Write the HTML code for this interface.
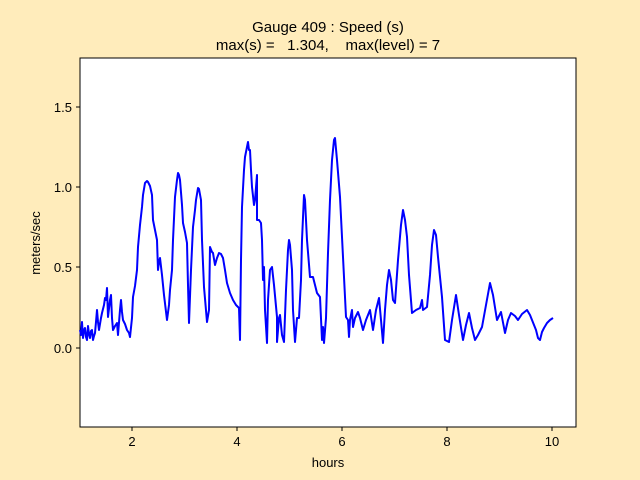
<!DOCTYPE html>
<html><head><meta charset="utf-8"><style>
html,body{margin:0;padding:0;background:#ffecbb;}
svg{display:block;font-family:"Liberation Sans","DejaVu Sans",sans-serif;}
</style></head><body>
<svg width="640" height="480" viewBox="0 0 640 480">
<rect width="640" height="480" fill="#ffecbb"/>
<rect x="80" y="58" width="496" height="369" fill="#fff" stroke="#000" stroke-width="1"/>
<text x="328" y="32" font-size="15" text-anchor="middle">Gauge 409 : Speed (s)</text>
<text x="328" y="50" font-size="15" text-anchor="middle" xml:space="preserve">max(s) =   1.304,    max(level) = 7</text>
<g stroke="#000" stroke-width="1">
<line x1="132" y1="427" x2="132" y2="431"/><line x1="237" y1="427" x2="237" y2="431"/>
<line x1="342" y1="427" x2="342" y2="431"/><line x1="447" y1="427" x2="447" y2="431"/>
<line x1="552" y1="427" x2="552" y2="431"/>
<line x1="76" y1="348" x2="80" y2="348"/><line x1="76" y1="267" x2="80" y2="267"/>
<line x1="76" y1="187" x2="80" y2="187"/><line x1="76" y1="107" x2="80" y2="107"/>
</g>
<g font-size="13" text-anchor="middle">
<text x="132" y="446">2</text><text x="237" y="446">4</text><text x="342" y="446">6</text>
<text x="447" y="446">8</text><text x="552" y="446">10</text>
<text x="328" y="467">hours</text>
</g>
<g font-size="13" text-anchor="end">
<text x="72" y="353">0.0</text><text x="72" y="272">0.5</text>
<text x="72" y="192">1.0</text><text x="72" y="112">1.5</text>
</g>
<text transform="translate(40,243) rotate(-90)" font-size="13" text-anchor="middle">meters/sec</text>
<polyline fill="none" stroke="#0000ff" stroke-width="2" stroke-linejoin="round" points="
80,330 81,335 82,322 83,338 84,330 85,328 86,337 87,340 88,326 89,334 90,338 91,331 92,330 93,340 94,336 95,333 96,322 97,310 98,322 99,330 101,318 102,313 104,305 105,298 106,300 107,288 108,317 110,300 111,295 112,318 113,330 115,326 117,323 118,335 120,310 121,300 122,312 123,320 125,324 127,330 129,333 130,337 132,318 133,297 135,286 137,270 138,247 140,225 142,207 143,195 145,183 147,181 148,182 150,186 152,195 153,220 155,230 157,240 158,270 159,262 160,258 162,275 164,295 167,320 169,305 170,290 172,270 173,240 175,197 177,180 178,173 179,175 180,180 182,205 183,223 185,232 187,243 188,285 189,323 191,270 193,227 195,210 196,200 198,188 199,189 201,200 202,240 204,287 207,322 209,310 210,247 212,252 213,253 215,265 217,258 219,253 221,254 223,258 225,270 227,283 230,293 233,300 236,305 239,308 240,340 241,260 242,207 244,170 245,157 247,147 248,142 249,150 250,150 251,170 252,187 254,205 255,200 257,175 257,220 259,220 261,223 262,240 263,280 264,267 265,310 267,343 268,300 270,270 272,267 274,285 277,317 277,342 279,318 280,315 282,335 284,342 286,290 288,250 289,240 290,245 292,270 293,310 295,342 297,318 299,318 301,280 302,240 304,195 305,200 307,240 310,277 313,277 317,293 320,297 322,340 323,327 324,343 326,318 328,253 330,200 332,160 334,140 335,138 337,160 340,197 343,257 346,317 348,320 349,337 350,320 352,310 353,327 355,318 358,312 360,318 363,330 366,320 370,310 373,330 376,310 379,298 381,320 383,343 385,310 387,285 389,270 391,280 393,300 395,303 398,260 401,225 403,210 405,220 407,237 409,275 412,313 416,310 420,308 422,300 423,310 427,307 430,275 432,245 434,230 436,235 438,257 442,297 445,340 449,342 452,320 456,295 459,315 463,340 466,325 469,313 472,328 475,340 478,335 482,327 486,305 490,283 493,295 497,320 501,312 505,333 508,320 511,313 515,316 518,320 522,314 527,310 530,315 532,320 536,330 538,338 540,340 542,332 544,328 547,323 550,320 553,318"/>
</svg>
</body></html>
